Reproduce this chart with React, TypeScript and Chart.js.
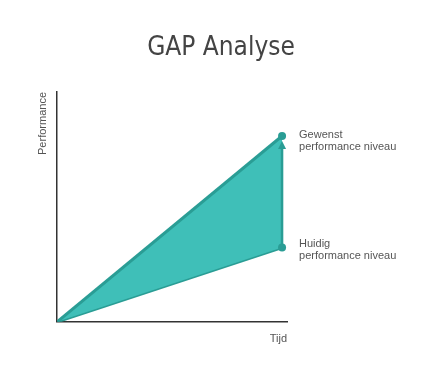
import React, { useEffect, useRef } from "react";
import { Chart, registerables } from "chart.js";

Chart.register(...registerables);

const timeValues = [0, 1];
const desiredValues = [0, 10];
const currentValues = [0, 4];
const desiredLabel = ["Gewenst", "performance niveau"];
const currentLabel = ["Huidig", "performance niveau"];
const titleText = "GAP Analyse";
const xTitle = "Tijd";
const yTitle = "Performance";

const FILL = "#3fbfb8";
const LINE = "#2a9d95";
const AXIS = "#333333";
const TEXT = "#555555";

const annotatePlugin = {
  id: "gapAnnotate",
  afterDatasetsDraw(chart: any) {
    const ctx = chart.ctx;
    const xs = chart.scales.x;
    const ys = chart.scales.y;
    const n = timeValues.length - 1;
    const x = xs.getPixelForValue(timeValues[n]);
    const yTop = ys.getPixelForValue(desiredValues[n]);
    const yBot = ys.getPixelForValue(currentValues[n]);
    ctx.save();
    // title
    ctx.fillStyle = "#444444";
    ctx.font = "500 26px 'DejaVu Sans Condensed', 'DejaVu Sans', sans-serif";
    ctx.textAlign = "center";
    ctx.textBaseline = "middle";
    ctx.fillText(titleText, chart.width / 2, 48);
    // arrow
    ctx.strokeStyle = LINE;
    ctx.fillStyle = LINE;
    ctx.lineWidth = 2.5;
    const tipY = yTop + 5;
    ctx.beginPath();
    ctx.moveTo(x, yBot);
    ctx.lineTo(x, tipY + 6);
    ctx.stroke();
    ctx.beginPath();
    ctx.moveTo(x, tipY);
    ctx.lineTo(x - 4, tipY + 8);
    ctx.lineTo(x + 4, tipY + 8);
    ctx.closePath();
    ctx.fill();
    // dots
    [yTop, yBot].forEach((y) => {
      ctx.beginPath();
      ctx.arc(x, y, 4, 0, Math.PI * 2);
      ctx.fill();
    });
    // labels
    ctx.fillStyle = TEXT;
    ctx.font = "11px 'Liberation Sans', Arial, sans-serif";
    ctx.textBaseline = "middle";
    ctx.textAlign = "left";
    desiredLabel.forEach((t, i) => ctx.fillText(t, x + 17, yTop - 1 + i * 12));
    currentLabel.forEach((t, i) => ctx.fillText(t, x + 17, yBot - 4 + i * 12));
    ctx.restore();
  },
};

export default function App() {
  const ref = useRef<HTMLCanvasElement>(null);
  useEffect(() => {
    document.body.style.margin = "0";
    const pts = (ys: number[]) => timeValues.map((t, i) => ({ x: t, y: ys[i] }));
    const chart = new Chart(ref.current!, {
      type: "line",
      data: {
        datasets: [
          {
            data: pts(desiredValues),
            borderColor: LINE,
            backgroundColor: FILL,
            borderWidth: 3,
            pointRadius: 0,
            fill: "+1",
            tension: 0,
          },
          {
            data: pts(currentValues),
            borderColor: LINE,
            backgroundColor: FILL,
            borderWidth: 3,
            pointRadius: 0,
            fill: false,
            tension: 0,
          },
        ],
      },
      options: {
        responsive: false,
        animation: false,
        layout: { padding: { left: 25, right: 155, top: 92, bottom: 23 } },
        plugins: {
          legend: { display: false },
          tooltip: { enabled: false },
          title: { display: false },
        },
        scales: {
          x: {
            type: "linear",
            min: 0,
            max: 1.022,
            grid: { display: false },
            ticks: { display: false },
            border: { display: true, color: AXIS, width: 1.5 },
            title: {
              display: true,
              text: xTitle,
              align: "end",
              color: TEXT,
              font: { family: "'Liberation Sans', Arial, sans-serif", size: 11 },
              padding: { top: 3, bottom: 4 },
            },
          },
          y: {
            type: "linear",
            min: 0,
            max: 12.37,
            grid: { display: false },
            ticks: { display: false },
            border: { display: true, color: AXIS, width: 1.5 },
            title: {
              display: true,
              text: yTitle,
              align: "end",
              color: TEXT,
              font: { family: "'Liberation Sans', Arial, sans-serif", size: 11 },
              padding: { top: 11, bottom: 0 },
            },
          },
        },
      },
      plugins: [annotatePlugin],
    } as any);
    return () => chart.destroy();
  }, []);
  return <canvas ref={ref} width={442} height={373} />;
}
